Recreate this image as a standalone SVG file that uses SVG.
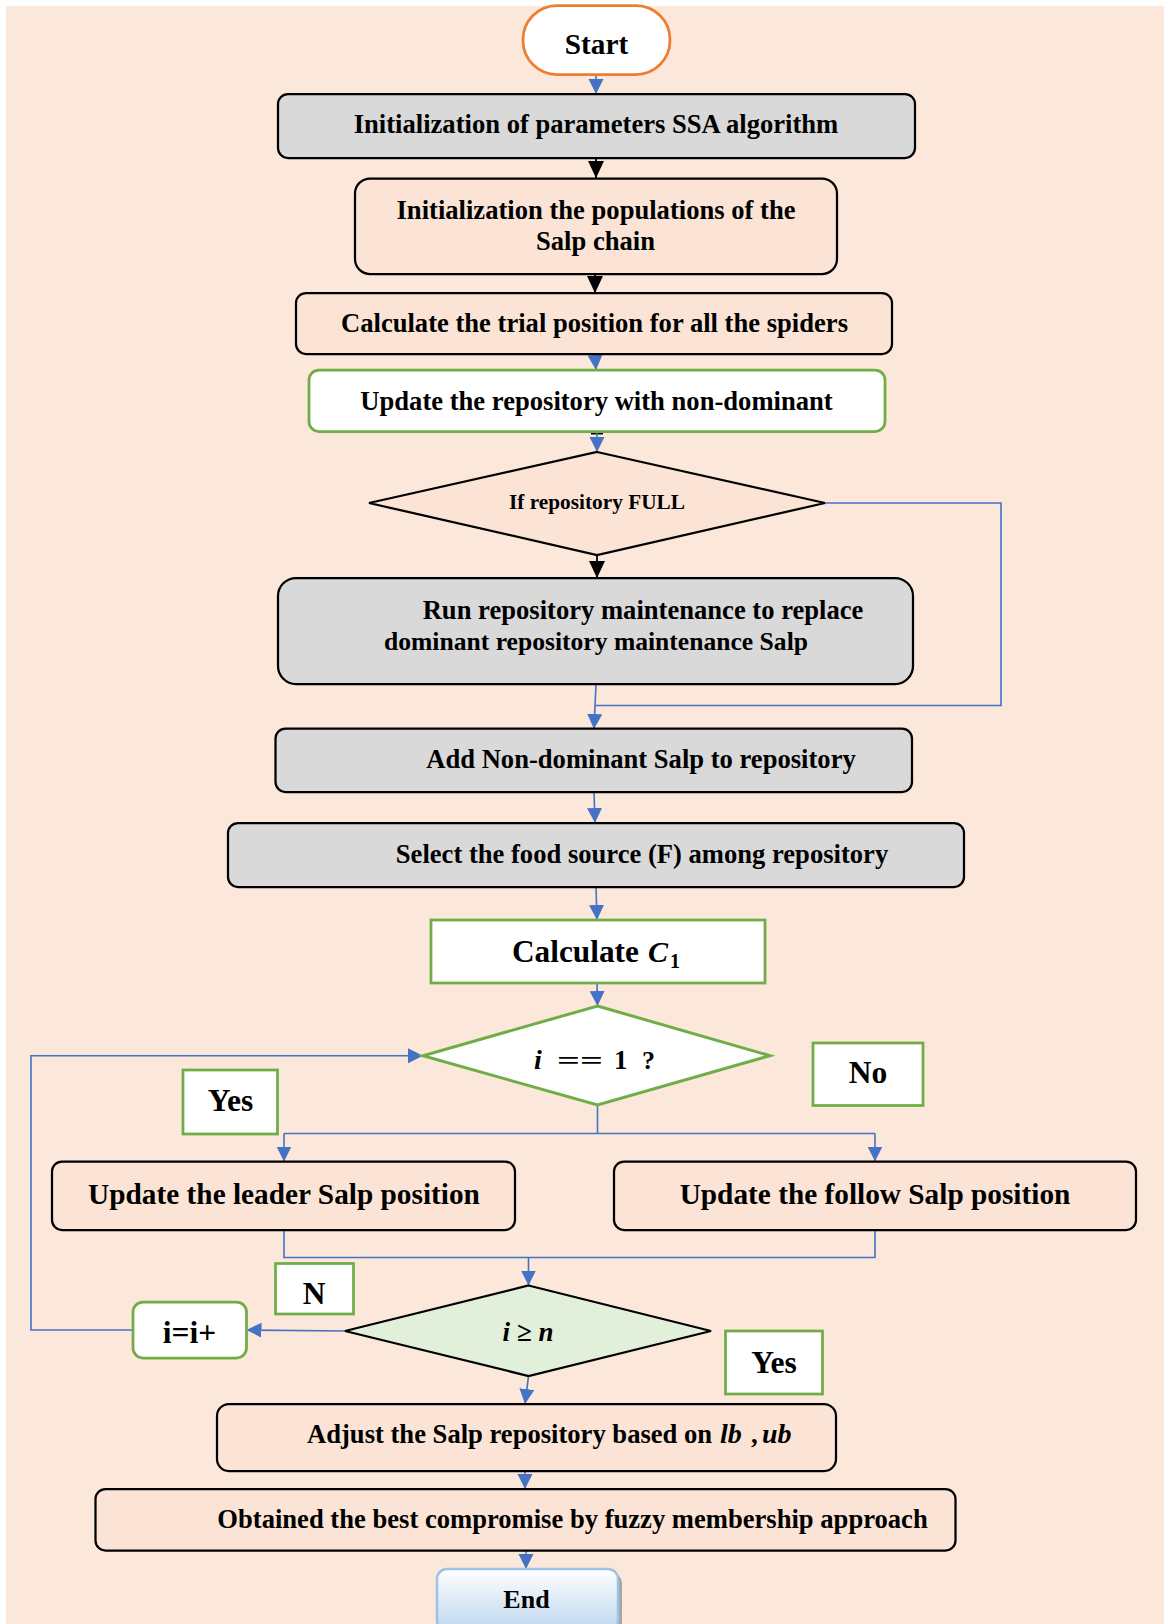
<svg xmlns="http://www.w3.org/2000/svg" width="1164" height="1624" viewBox="0 0 1164 1624">
  <style>
    .t { font-family: "Liberation Serif", "Times New Roman", serif; font-weight: bold; fill: #000; }
    .m { text-anchor: middle; }
    .it { font-style: italic; }
    .box-peach { fill: #FBE4D5; stroke: #000; stroke-width: 2.25; }
    .box-gray { fill: #D9D9D9; stroke: #000; stroke-width: 2.25; }
    .box-green { fill: #FFFFFF; stroke: #70AD47; stroke-width: 2.75; }
    .blue { fill: none; stroke: #4472C4; stroke-width: 1.6; }
    .black { fill: none; stroke: #000; stroke-width: 1.8; }
  </style>
  <defs>
    <marker id="ahBlue" markerUnits="userSpaceOnUse" markerWidth="16" markerHeight="16" refX="15" refY="7.5" orient="auto">
      <path d="M0,0 L15,7.5 L0,15 z" fill="#4472C4"/>
    </marker>
    <marker id="ahBlack" markerUnits="userSpaceOnUse" markerWidth="18" markerHeight="18" refX="17" refY="8" orient="auto">
      <path d="M0,0 L17,8 L0,16 z" fill="#000"/>
    </marker>
    <linearGradient id="endFill" x1="0" y1="0" x2="0" y2="1">
      <stop offset="0" stop-color="#FFFFFF"/>
      <stop offset="1" stop-color="#BDD7EE"/>
    </linearGradient>
  </defs>

  <!-- page background -->
  <rect x="6" y="6" width="1158" height="1618" fill="#FCE8DA"/>

  <!-- connectors -->
  <g id="connectors">
    <line class="blue" x1="596" y1="75" x2="596" y2="94" marker-end="url(#ahBlue)"/>
    <line class="black" x1="596" y1="158" x2="596" y2="178" marker-end="url(#ahBlack)"/>
    <line class="black" x1="595" y1="274" x2="595" y2="293" marker-end="url(#ahBlack)"/>
    <line class="blue" x1="595" y1="354" x2="596" y2="370" marker-end="url(#ahBlue)"/>
    <line x1="591" y1="433.5" x2="603" y2="433.5" stroke="#000" stroke-width="2"/>
    <line class="blue" x1="597" y1="432" x2="597" y2="452" marker-end="url(#ahBlue)"/>
    <line class="black" x1="597" y1="555" x2="597" y2="578" marker-end="url(#ahBlack)"/>
    <polyline class="blue" points="825,503 1001,503 1001,705.5 595,705.5"/>
    <line class="blue" x1="596" y1="684" x2="594" y2="729" marker-end="url(#ahBlue)"/>
    <line class="blue" x1="594" y1="792" x2="595" y2="823" marker-end="url(#ahBlue)"/>
    <line class="blue" x1="596" y1="887" x2="597" y2="920" marker-end="url(#ahBlue)"/>
    <line class="blue" x1="597" y1="983" x2="597.5" y2="1006" marker-end="url(#ahBlue)"/>
    <line class="blue" x1="597.5" y1="1105" x2="597.5" y2="1133.5"/>
    <line class="blue" x1="284" y1="1133.5" x2="875" y2="1133.5"/>
    <line class="blue" x1="284" y1="1133.5" x2="284" y2="1161.5" marker-end="url(#ahBlue)"/>
    <line class="blue" x1="875" y1="1133.5" x2="875" y2="1161.5" marker-end="url(#ahBlue)"/>
    <polyline class="blue" points="284,1230 284,1257.5 875,1257.5 875,1230"/>
    <line class="blue" x1="528.5" y1="1257.5" x2="528.5" y2="1285.5" marker-end="url(#ahBlue)"/>
    <line class="blue" x1="345" y1="1331" x2="246.5" y2="1330" marker-end="url(#ahBlue)"/>
    <polyline class="blue" points="133,1330 31,1330 31,1055.7 423,1055.7" marker-end="url(#ahBlue)"/>
    <line class="blue" x1="528.5" y1="1376" x2="525" y2="1404" marker-end="url(#ahBlue)"/>
    <line class="blue" x1="525" y1="1471" x2="525" y2="1489" marker-end="url(#ahBlue)"/>
    <line class="blue" x1="526" y1="1551" x2="526" y2="1569" marker-end="url(#ahBlue)"/>
  </g>

  <!-- nodes -->
  <g id="start">
    <rect x="523" y="5.5" width="147" height="69" rx="34" fill="#FFFFFF" stroke="#ED7D31" stroke-width="2.75"/>
    <text class="t m" x="596.5" y="54" font-size="29.3">Start</text>
  </g>

  <g id="init-params">
    <rect class="box-gray" x="278" y="94" width="637" height="64" rx="10"/>
    <text class="t m" x="596" y="133" font-size="26.6">Initialization of parameters SSA algorithm</text>
  </g>

  <g id="init-population">
    <rect class="box-peach" x="355" y="178.5" width="482" height="95.5" rx="15"/>
    <text class="t m" x="596" y="218.5" font-size="26.6">Initialization the populations of the</text>
    <text class="t m" x="595.5" y="249.5" font-size="26.6">Salp chain</text>
  </g>

  <g id="trial-position">
    <rect class="box-peach" x="296" y="293" width="596" height="61" rx="10"/>
    <text class="t m" x="594.5" y="332" font-size="26.6">Calculate the trial position for all the spiders</text>
  </g>

  <g id="update-repository">
    <rect class="box-green" x="309" y="370" width="576" height="61.5" rx="10"/>
    <text class="t m" x="596.5" y="409.5" font-size="26.6">Update the repository with non-dominant</text>
  </g>

  <g id="repository-full">
    <polygon points="597,452 825,503 597,555 369,503" fill="#FBE4D5" stroke="#000" stroke-width="2.25"/>
    <text class="t m" x="597" y="508.5" font-size="21.3">If repository FULL</text>
  </g>

  <g id="maintenance">
    <rect class="box-gray" x="278" y="578" width="635" height="106" rx="18"/>
    <text class="t m" x="643" y="618.5" font-size="26.6">Run repository maintenance to replace</text>
    <text class="t m" x="596" y="650" font-size="25.6">dominant repository maintenance Salp</text>
  </g>

  <g id="add-nondominant">
    <rect class="box-gray" x="275.5" y="728.5" width="636.5" height="63.5" rx="10"/>
    <text class="t m" x="641" y="768" font-size="26.6">Add Non-dominant Salp to repository</text>
  </g>

  <g id="select-food">
    <rect class="box-gray" x="228" y="823" width="736" height="64" rx="10"/>
    <text class="t m" x="642" y="862.5" font-size="26.6">Select the food source (F) among repository</text>
  </g>

  <g id="calculate-c1">
    <rect class="box-green" x="431" y="920" width="334" height="63"/>
    <text class="t" x="512" y="962" font-size="31.3">Calculate <tspan class="it" x="648" font-size="30">C</tspan><tspan x="670" y="968" font-size="20">1</tspan></text>
  </g>

  <g id="is-leader">
    <polygon points="597.5,1006 770,1055.7 597.5,1105 423,1055.7" fill="#FFFFFF" stroke="#70AD47" stroke-width="3"/>
    <text class="t" y="1069" font-size="26"><tspan class="it" x="534" font-size="28">i</tspan><tspan x="557" textLength="46" lengthAdjust="spacingAndGlyphs">==</tspan><tspan x="614" font-size="27">1</tspan><tspan x="642">?</tspan></text>
  </g>

  <g id="label-no">
    <rect class="box-green" x="813" y="1043" width="110" height="62.5"/>
    <text class="t m" x="868" y="1083" font-size="31.5">No</text>
  </g>

  <g id="label-yes-1">
    <rect class="box-green" x="183" y="1070" width="94.5" height="64"/>
    <text class="t m" x="230.5" y="1111" font-size="31.5">Yes</text>
  </g>

  <g id="update-leader">
    <rect class="box-peach" x="52" y="1161.5" width="463" height="68.5" rx="10"/>
    <text class="t m" x="284" y="1203.5" font-size="29.3">Update the leader Salp position</text>
  </g>

  <g id="update-follower">
    <rect class="box-peach" x="614" y="1161.5" width="522" height="68.5" rx="10"/>
    <text class="t m" x="875" y="1203.5" font-size="29.3">Update the follow Salp position</text>
  </g>

  <g id="check-end">
    <polygon points="528.5,1285.5 711,1331 528.5,1376 345,1331" fill="#E2EFDA" stroke="#000" stroke-width="2.25"/>
    <text class="t it" x="528" y="1341" font-size="27" text-anchor="middle">i ≥ n</text>
  </g>

  <g id="label-n">
    <rect class="box-green" x="275.5" y="1263.5" width="78" height="50.5"/>
    <text class="t m" x="314" y="1304" font-size="31.5">N</text>
  </g>

  <g id="label-yes-2">
    <rect class="box-green" x="725.5" y="1331" width="97" height="63"/>
    <text class="t m" x="774" y="1373" font-size="31.5">Yes</text>
  </g>

  <g id="increment">
    <rect class="box-green" x="133" y="1302" width="113.5" height="56" rx="10"/>
    <text class="t m" x="189.5" y="1343" font-size="31.5">i=i+</text>
  </g>

  <g id="adjust-bounds">
    <rect class="box-peach" x="217" y="1404" width="619" height="67" rx="12"/>
    <text class="t" x="307" y="1443" font-size="26.6">Adjust the Salp repository based on <tspan class="it" x="720" font-size="28">lb</tspan><tspan x="751">,</tspan><tspan class="it" x="762" font-size="28">ub</tspan></text>
  </g>

  <g id="best-compromise">
    <rect class="box-peach" x="95.5" y="1489" width="860" height="61.5" rx="10"/>
    <text class="t m" x="572.5" y="1528" font-size="26.6">Obtained the best compromise by fuzzy membership approach</text>
  </g>

  <g id="end">
    <rect x="441" y="1573" width="181" height="62" rx="10" fill="#A6A6A6"/>
    <rect x="437" y="1569" width="181" height="62" rx="10" fill="url(#endFill)" stroke="#9DC3E6" stroke-width="2.5"/>
    <text class="t m" x="526.5" y="1607.5" font-size="26">End</text>
  </g>
</svg>
